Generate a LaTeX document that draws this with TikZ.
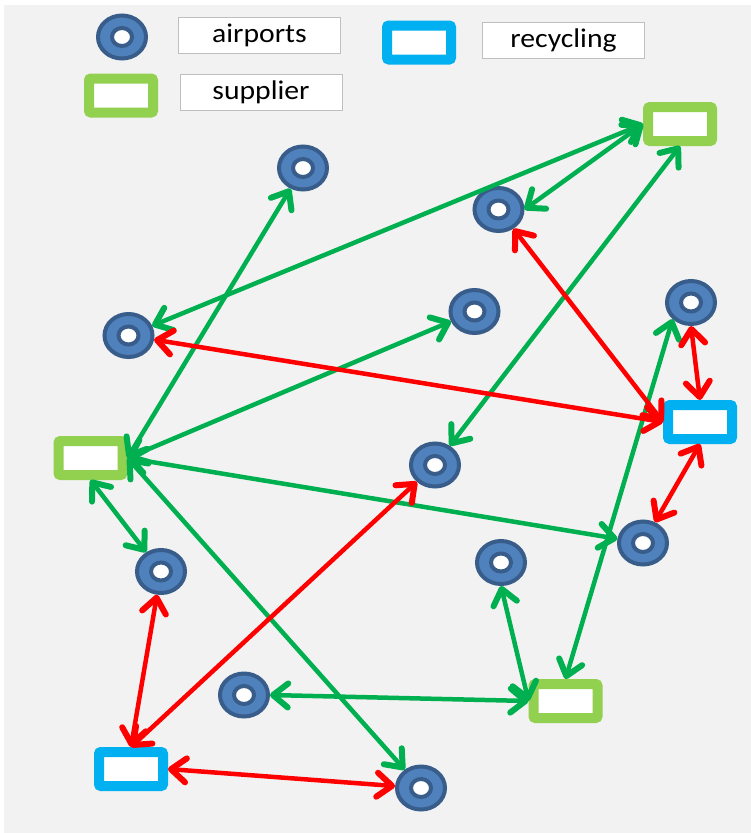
\documentclass[tikz,border=0pt]{standalone}
\usepackage{fontspec}
\setmainfont{Carlito}[FakeStretch=1.1]
\usetikzlibrary{arrows.meta,shapes.geometric}
\definecolor{airblue}{HTML}{4F81BD}
\definecolor{airedge}{HTML}{385D8A}
\definecolor{suppgreen}{HTML}{92D050}
\definecolor{recblue}{HTML}{00B0F0}
\definecolor{linkgreen}{HTML}{00B050}
\definecolor{linkred}{HTML}{FF0000}
\definecolor{backgray}{HTML}{F2F2F2}

\begin{document}
\begin{tikzpicture}[x=1pt,y=-1pt,
	>={Straight Barb[length=15pt,width=24pt,line width=6pt,round]},
	airport/.style={ellipse,draw=airedge,line width=4pt,fill=airblue,minimum width=48pt,minimum height=43pt,inner sep=0pt,
		path picture={\draw[airedge,line width=4pt,fill=white] (path picture bounding box.center) ellipse (10pt and 9pt);}},
	supplier/.style={rectangle,draw=suppgreen,line width=10pt,fill=white,minimum width=64pt,minimum height=34pt,inner sep=0pt,rounded corners=2pt},
	recycler/.style={supplier,draw=recblue},
	keybox/.style={rectangle,draw=black!25,line width=1pt,fill=white,minimum width=162pt,minimum height=36pt,inner sep=0pt,font=\fontsize{27}{32}\selectfont},
	link/.style={<->,line width=4.5pt},
	greenlink/.style={link,draw=linkgreen},
	redlink/.style={link,draw=linkred}]
	\useasboundingbox (0,0) rectangle (751,833);
	\fill[backgray] (4,5) rectangle (751,833);
	\node[airport] (ka) at (122,37) {};
	\node[keybox] (ta) at (259.5,35.5) {airports};
	\node[supplier] (ks) at (121,95.5) {};
	\node[keybox] (ts) at (261,92.5) {supplier};
	\node[recycler] (kr) at (419,42.5) {};
	\node[keybox] (tr) at (563.5,40) {recycling};
	\node[airport] (a1) at (303,168) {};
	\node[airport] (a2) at (498.5,209.5) {};
	\node[airport] (a3) at (128.5,335.5) {};
	\node[airport] (a4) at (474.5,311.5) {};
	\node[airport] (a5) at (691,302.5) {};
	\node[airport] (a6) at (435,465) {};
	\node[airport] (a7) at (161,571.5) {};
	\node[airport] (a8) at (643,543) {};
	\node[airport] (a9) at (501,562.5) {};
	\node[airport] (a10) at (244,695) {};
	\node[airport] (a11) at (421,788) {};
	\node[supplier] (s1) at (680,124) {};
	\node[supplier] (s2) at (90.5,458) {};
	\node[supplier] (s3) at (565.5,701) {};
	\node[recycler] (r1) at (700,422) {};
	\node[recycler] (r2) at (131,769) {};
	\draw[greenlink] (s2.east) -- (a1);
	\draw[greenlink] (s1.west) -- (a3);
	\draw[greenlink] (s1.west) -- (a2.east);
	\draw[greenlink] (s1.south) -- (a6);
	\draw[greenlink] (s2.east) -- (a4);
	\draw[greenlink] (s2.east) -- (a8);
	\draw[greenlink] (s2.east) -- (a11);
	\draw[greenlink] (s2.south) -- (a7);
	\draw[greenlink] (s3.north) -- (a5.south west);
	\draw[greenlink] (s3.west) -- (a9.south);
	\draw[greenlink] (s3.west) -- (a10.east);
	\draw[redlink] (a3) -- (r1.west);
	\draw[redlink] (a2) -- (r1.west);
	\draw[redlink] (a5.south) -- (r1.north);
	\draw[redlink] (r1.south) -- (a8);
	\draw[redlink] (r2.north) -- (a6);
	\draw[redlink] (r2.north) -- (a7);
	\draw[redlink] (r2.east) -- (a11);
\end{tikzpicture}
\end{document}
